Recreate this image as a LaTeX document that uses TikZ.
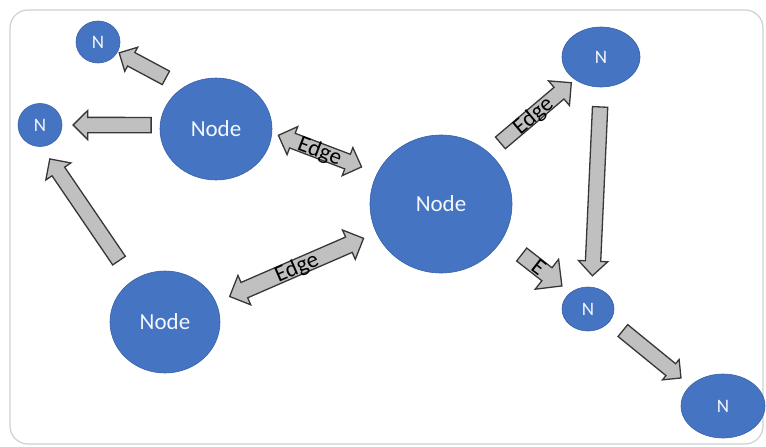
\documentclass[tikz,border=0pt]{standalone}
\usepackage{fontspec}
\setmainfont{Carlito}
\usetikzlibrary{shapes.geometric,shapes.arrows}
\definecolor{nodeblue}{RGB}{68,116,194}
\definecolor{nodeline}{RGB}{56,98,168}
\definecolor{arrowgray}{RGB}{192,192,192}
\definecolor{arrowline}{RGB}{55,55,55}
\definecolor{framegray}{RGB}{208,208,208}
\tikzset{
  vertex/.style={ellipse, fill=nodeblue, draw=nodeline, line width=0.6pt,
    inner sep=0pt, text=white!94!nodeblue},
  bignode/.style={vertex, font=\fontsize{23}{27}\selectfont},
  smallnode/.style={vertex, font=\fontsize{19}{22}\selectfont},
  arrowbase/.style={fill=arrowgray, draw=arrowline, line width=1.3pt,
    inner sep=0pt, sloped, allow upside down,
    font=\fontsize{23}{26}\selectfont, text height=14pt, text depth=0pt},
  barrow/.style n args={3}{arrowbase, single arrow, minimum height=#1,
    minimum width=#3, single arrow head extend=(#3-#2)/2},
  dbarrow/.style n args={3}{arrowbase, double arrow, minimum height=#1,
    minimum width=#3, double arrow head extend=(#3-#2)/2}
}
\begin{document}
\begin{tikzpicture}[x=1pt,y=-1pt]
    \useasboundingbox (0,0) rectangle (766,447);
    \draw[framegray, line width=1.2pt, rounded corners=18pt] (10,10) rectangle (763,444);

    \node[smallnode, minimum width=44pt, minimum height=42pt] (nA) at (98,42) {N};
    \node[smallnode, minimum width=44pt, minimum height=43pt] (nB) at (40,125) {N};
    \node[bignode, minimum width=112pt, minimum height=102pt] (hubA) at (216,129) {Node};
    \node[bignode, minimum width=142pt, minimum height=138pt] (hub) at (441,204) {Node};
    \node[bignode, minimum width=110pt, minimum height=102pt] (hubB) at (165,322) {Node};
    \node[smallnode, minimum width=78pt, minimum height=60pt] (nC) at (601,57) {N};
    \node[smallnode, minimum width=52pt, minimum height=44pt] (nD) at (588,309) {N};
    \node[smallnode, minimum width=84pt, minimum height=64pt] (nE) at (723,406) {N};

    \path (hubA.128) -- (nA.-27) node[barrow={53pt}{12pt}{24pt}, pos=.57] (a1) {};
    \path (hubA.176) -- (nB.0) node[barrow={78pt}{13pt}{27pt}, pos=.45] (a2) {};
    \path (hubB.128) -- (nB.-86) node[barrow={123pt}{15pt}{30pt}, pos=.505] (a3) {};
    \path (hubA.-4) -- (hub.154) node[dbarrow={89pt}{16pt}{30pt}, pos=.455] (e1) {Edge};
    \path (hubB.21) -- (hub.-156) node[dbarrow={146pt}{18pt}{32pt}, pos=.503] (e2) {Edge};
    \path (hub.47) -- (nC.-139) node[barrow={93pt}{15pt}{32pt}, pos=.512] (e3) {Edge};
    \path (hub.-30) -- (nD.137) node[barrow={51pt}{18pt}{38pt}, pos=.533] (e4) {E};
    \path (nC.-90) -- (nD.80) node[barrow={169pt}{13pt}{27pt}, pos=.502] (a4) {};
    \path (nD.-27) -- (nE.148) node[barrow={75pt}{9pt}{20pt}, pos=.482] (a5) {};
\end{tikzpicture}
\end{document}
